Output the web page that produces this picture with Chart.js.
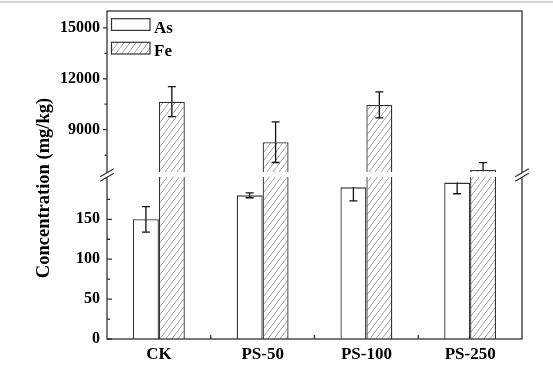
<!DOCTYPE html>
<html><head><meta charset="utf-8">
<script src="https://cdn.jsdelivr.net/npm/chart.js@4.4.1/dist/chart.umd.min.js"></script>
<style>html,body{margin:0;padding:0;background:#fff;} #wrap{width:553px;height:369px;position:relative;}</style>
</head><body><div id="wrap"><canvas id="c" width="553" height="369"></canvas></div>
<script>
// ---------- data ----------
const categories = ['CK', 'PS-50', 'PS-100', 'PS-250'];
const seriesNames = ['As', 'Fe'];
const asValues = [150, 180, 190, 196];
const asErrors = [16, 3, 17, 14];
const feValues = [10650, 8260, 10460, 6620];
const feErrors = [885, 1200, 770, 430];
const lowerTicks = [0, 50, 100, 150];
const lowerMinorTicks = [25, 75, 125, 175];
const upperTicks = [9000, 12000, 15000];
const upperMinorTicks = [7500, 10500, 13500];
const lowerRange = [0, 203];
const upperRange = [6500, 16000];
const yTitle = 'Concentration (mg/kg)';

// ---------- style ----------
const FONT = "'Liberation Serif', 'Times New Roman', serif";
const LINE = '#333333';

function makeHatch() {
  const c = document.createElement('canvas');
  c.width = 6; c.height = 8;
  const g = c.getContext('2d');
  g.fillStyle = '#ffffff'; g.fillRect(0, 0, 6, 8);
  g.strokeStyle = '#8f8f8f'; g.lineWidth = 0.8;
  for (let k = -1; k <= 1; k++) {
    g.beginPath(); g.moveTo(k * 6, 8); g.lineTo(k * 6 + 6, 0); g.stroke();
  }
  return document.getElementById('c').getContext('2d').createPattern(c, 'repeat');
}
const hatch = makeHatch();

const segClip = {
  id: 'segClip',
  beforeDatasetDraw(chart, args) {
    const ys = args.meta.yScale, a = chart.chartArea, ctx = chart.ctx;
    ctx.save(); ctx.beginPath();
    ctx.rect(a.left - 3, ys.top, a.right - a.left + 6, ys.bottom - ys.top);
    ctx.clip();
  },
  afterDatasetDraw(chart) { chart.ctx.restore(); }
};

const background = {
  id: 'background',
  beforeDraw(chart) {
    const ctx = chart.ctx;
    ctx.save();
    ctx.fillStyle = '#ffffff'; ctx.fillRect(0, 0, chart.width, chart.height);
    ctx.fillStyle = '#d6d6d6'; ctx.fillRect(0, 1, chart.width, 2);
    ctx.restore();
  }
};

function drawErr(ctx, x, scale, v, e) {
  const cw = 4;
  const yv = scale.getPixelForValue(v);
  if (v + e <= scale.max) {
    const yt = scale.getPixelForValue(v + e);
    ctx.beginPath(); ctx.moveTo(x, yv); ctx.lineTo(x, yt);
    ctx.moveTo(x - cw, yt); ctx.lineTo(x + cw, yt); ctx.stroke();
  }
  if (v - e >= scale.min) {
    const yb = scale.getPixelForValue(v - e);
    ctx.beginPath(); ctx.moveTo(x, yv); ctx.lineTo(x, yb);
    ctx.moveTo(x - cw, yb); ctx.lineTo(x + cw, yb); ctx.stroke();
  }
}

const errorBars = {
  id: 'errorBars',
  afterDatasetsDraw(chart) {
    const ctx = chart.ctx;
    ctx.save(); ctx.strokeStyle = '#111'; ctx.lineWidth = 1.3;
    const mAs = chart.getDatasetMeta(0), mFe = chart.getDatasetMeta(2);
    categories.forEach((c, i) => {
      drawErr(ctx, mAs.data[i].x, chart.scales.yLo, asValues[i], asErrors[i]);
      drawErr(ctx, mFe.data[i].x, chart.scales.yHi, feValues[i], feErrors[i]);
    });
    ctx.restore();
  }
};

const frame = {
  id: 'frame',
  afterDraw(chart) {
    const ctx = chart.ctx, a = chart.chartArea;
    const yLo = chart.scales.yLo, yHi = chart.scales.yHi, xs = chart.scales.x;
    ctx.save();
    ctx.strokeStyle = LINE; ctx.lineWidth = 1.3;
    ctx.strokeRect(a.left, a.top, a.right - a.left, a.bottom - a.top);
    // ticks
    ctx.beginPath();
    lowerTicks.forEach(v => { const y = yLo.getPixelForValue(v); ctx.moveTo(a.left, y); ctx.lineTo(a.left + 5, y); });
    lowerMinorTicks.forEach(v => { const y = yLo.getPixelForValue(v); ctx.moveTo(a.left, y); ctx.lineTo(a.left + 3, y); });
    upperTicks.forEach(v => { const y = yHi.getPixelForValue(v); ctx.moveTo(a.left, y); ctx.lineTo(a.left - 4, y); });
    upperMinorTicks.forEach(v => { const y = yHi.getPixelForValue(v); ctx.moveTo(a.left, y); ctx.lineTo(a.left - 2.5, y); });
    for (let i = 0; i < categories.length - 1; i++) {
      const xb = (xs.getPixelForValue(i) + xs.getPixelForValue(i + 1)) / 2;
      ctx.moveTo(xb, a.bottom); ctx.lineTo(xb, a.bottom - 4);
    }
    ctx.stroke();
    // break marks
    const cy = (yHi.bottom + yLo.top) / 2 + 0.5;
    [a.left, a.right].forEach(cx => {
      const dx = 6.8, dy = 4, off = 2.3;
      ctx.fillStyle = '#fff';
      ctx.beginPath();
      ctx.moveTo(cx - dx, cy - off + dy); ctx.lineTo(cx + dx, cy - off - dy);
      ctx.lineTo(cx + dx, cy + off - dy); ctx.lineTo(cx - dx, cy + off + dy); ctx.closePath();
      ctx.fill();
      ctx.beginPath();
      ctx.moveTo(cx - dx, cy - off + dy); ctx.lineTo(cx + dx, cy - off - dy);
      ctx.moveTo(cx - dx, cy + off + dy); ctx.lineTo(cx + dx, cy + off - dy);
      ctx.stroke();
    });
    // legend
    const lx = 111.5, bw = 38.5, bh = 11.7, rows = [18.7, 42.3];
    ctx.lineWidth = 1.2;
    seriesNames.forEach((n, k) => {
      ctx.fillStyle = k === 0 ? '#fff' : hatch;
      ctx.fillRect(lx, rows[k], bw, bh);
      ctx.strokeRect(lx, rows[k], bw, bh);
      ctx.fillStyle = '#000';
      ctx.font = 'bold 17px ' + FONT;
      ctx.textAlign = 'left'; ctx.textBaseline = 'alphabetic';
      ctx.fillText(n, 154, rows[k] + 14);
    });
    // axis title
    ctx.save();
    ctx.translate(49, 188);
    ctx.rotate(-Math.PI / 2);
    ctx.font = 'bold 18.5px ' + FONT;
    ctx.textAlign = 'center'; ctx.textBaseline = 'alphabetic';
    ctx.fillStyle = '#000';
    ctx.fillText(yTitle, 0, 0);
    ctx.restore();
    ctx.restore();
  }
};

const barStyle = { borderColor: LINE, borderWidth: 1.3, borderSkipped: 'start', categoryPercentage: 0.5, barPercentage: 1.0 };
const tickFont = { family: FONT, size: 16, weight: 'bold' };
const fitY = s => { s.width = 107; s.paddingTop = 0; s.paddingBottom = 0; };

new Chart(document.getElementById('c'), {
  type: 'bar',
  data: {
    labels: categories,
    datasets: [
      Object.assign({ label: seriesNames[0], data: asValues, backgroundColor: '#ffffff', yAxisID: 'yLo', stack: 'As' }, barStyle),
      Object.assign({ label: seriesNames[1], data: feValues, backgroundColor: hatch, yAxisID: 'yLo', stack: 'Fe' }, barStyle),
      Object.assign({ label: seriesNames[1] + ' ', data: feValues, backgroundColor: hatch, yAxisID: 'yHi', stack: 'Fe' }, barStyle)
    ]
  },
  options: {
    responsive: false,
    animation: false,
    layout: { padding: { top: 11, right: 31, left: 0, bottom: 0 } },
    plugins: { legend: { display: false }, tooltip: { enabled: false } },
    scales: {
      x: {
        type: 'category', offset: true,
        grid: { display: false, drawTicks: false }, border: { display: false },
        ticks: { font: { family: FONT, size: 17, weight: 'bold' }, color: '#000', padding: 5, maxRotation: 0 },
        afterFit: s => { s.height = 30; s.paddingLeft = 0; s.paddingRight = 0; }
      },
      yHi: {
        type: 'linear', position: 'left', stack: 'ybreak', stackWeight: 161, weight: 3, stacked: false,
        min: upperRange[0], max: upperRange[1],
        grid: { display: false, drawTicks: false }, border: { display: false },
        ticks: { font: tickFont, color: '#000', padding: 7, autoSkip: false, callback: v => String(v) },
        afterBuildTicks: s => { s.ticks = upperTicks.map(v => ({ value: v })); },
        afterFit: fitY
      },
      yGap: {
        type: 'linear', position: 'left', stack: 'ybreak', stackWeight: 5, weight: 2, display: false,
        min: 0, max: 1
      },
      yLo: {
        type: 'linear', position: 'left', stack: 'ybreak', stackWeight: 162, weight: 1, stacked: false,
        min: lowerRange[0], max: lowerRange[1],
        grid: { display: false, drawTicks: false }, border: { display: false },
        ticks: { font: tickFont, color: '#000', padding: 7, autoSkip: false, callback: v => String(v) },
        afterBuildTicks: s => { s.ticks = lowerTicks.map(v => ({ value: v })); },
        afterFit: fitY
      }
    }
  },
  plugins: [background, segClip, errorBars, frame]
});
</script>
</body></html>
